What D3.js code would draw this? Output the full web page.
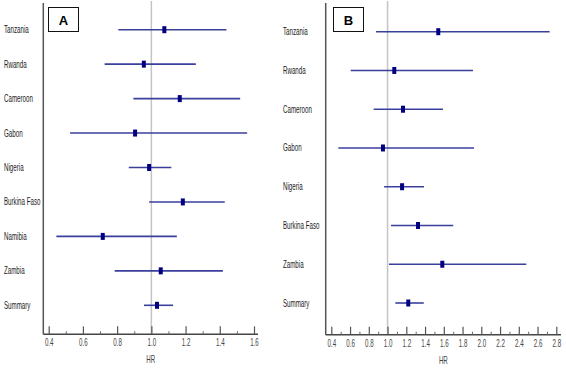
<!DOCTYPE html>
<html>
<head>
<meta charset="utf-8">
<script src="https://cdn.jsdelivr.net/npm/d3@7"></script>
<style>
  body { margin: 0; background: #fff; }
  text { font-family: "Liberation Sans", Arial, sans-serif; }
</style>
</head>
<body>
<div id="chart"></div>
<script>
/* DATA */
const countriesA = ["Tanzania", "Rwanda", "Cameroon", "Gabon", "Nigeria", "Burkina Faso", "Namibia", "Zambia", "Summary"];
const hrA    = [1.076, 0.956, 1.166, 0.905, 0.987, 1.184, 0.716, 1.055, 1.033];
const lowerA = [0.807, 0.727, 0.895, 0.525, 0.868, 0.987, 0.445, 0.786, 0.957];
const upperA = [1.439, 1.260, 1.519, 1.560, 1.117, 1.429, 1.149, 1.418, 1.127];
const ticksA = [0.4, 0.6, 0.8, 1.0, 1.2, 1.4, 1.6];

const countriesB = ["Tanzania", "Rwanda", "Cameroon", "Gabon", "Nigeria", "Burkina Faso", "Zambia", "Summary"];
const hrB    = [1.541, 1.072, 1.165, 0.951, 1.155, 1.325, 1.584, 1.221];
const lowerB = [0.877, 0.607, 0.852, 0.475, 0.963, 1.037, 1.015, 1.083];
const upperB = [2.729, 1.911, 1.591, 1.922, 1.389, 1.701, 2.480, 1.386];
const ticksB = [0.4, 0.6, 0.8, 1.0, 1.2, 1.4, 1.6, 1.8, 2.0, 2.2, 2.4, 2.6, 2.8];

const width = 566, height = 372;
const squeeze = 0.62; // the original uses a very narrow font

const svg = d3.select("#chart").append("svg")
  .attr("width", width)
  .attr("height", height);

// one forest plot panel
function drawPanel(p) {
  const g = svg.append("g");

  const xScale = d3.scaleLinear().domain(p.domain).range(p.xRange);
  const yScale = d3.scalePoint().domain(p.countries).range(p.yRange);

  const rows = p.countries.map((c, i) => ({ c, hr: p.hr[i], lo: p.lower[i], hi: p.upper[i] }));

  // reference line at HR = 1
  g.append("line")
    .attr("x1", xScale(1)).attr("x2", xScale(1))
    .attr("y1", 1).attr("y2", p.axisY)
    .attr("stroke", "#c4c4c4").attr("stroke-width", 1.5);

  // left axis line
  g.append("line")
    .attr("x1", p.axisX).attr("x2", p.axisX)
    .attr("y1", 3).attr("y2", p.axisY)
    .attr("stroke", "#555").attr("stroke-width", 1.5);

  // bottom axis line
  g.append("line")
    .attr("x1", p.axisX).attr("x2", p.axisEnd)
    .attr("y1", p.axisY).attr("y2", p.axisY)
    .attr("stroke", "#444").attr("stroke-width", 1.5);

  // major ticks + labels
  const axis = g.append("g")
    .attr("transform", `translate(0,${p.axisY})`)
    .call(d3.axisBottom(xScale)
      .tickValues(p.ticks)
      .tickSizeInner(-8)
      .tickSizeOuter(0)
      .tickPadding(5)
      .tickFormat(d3.format(".1f")));
  axis.select(".domain").remove();
  axis.selectAll("line").attr("stroke", "#555").attr("stroke-width", 1.2);
  axis.selectAll("text")
    .attr("fill", "#444")
    .attr("transform", `scale(${squeeze},1)`)
    .style("font-size", "10px")
    .style("font-family", "'Liberation Sans', Arial, sans-serif");

  // minor ticks
  const minor = p.ticks.slice(0, -1).map(t => +(t + 0.1).toFixed(1));
  const minorAxis = g.append("g")
    .attr("transform", `translate(0,${p.axisY})`)
    .call(d3.axisBottom(xScale).tickValues(minor).tickSizeInner(-3).tickSizeOuter(0).tickFormat(""));
  minorAxis.select(".domain").remove();
  minorAxis.selectAll("line").attr("stroke", "#666").attr("stroke-width", 1);

  // axis title
  g.append("text")
    .attr("transform", `translate(${(p.axisX + p.axisEnd) / 2},${p.axisY + 29}) scale(${squeeze},1)`)
    .attr("text-anchor", "middle")
    .attr("fill", "#444")
    .style("font-size", "10px")
    .text("HR");

  // country labels
  g.selectAll(".label")
    .data(rows)
    .join("text")
    .attr("class", "label")
    .attr("transform", d => `translate(${p.labelX},${yScale(d.c)}) scale(${squeeze},1)`)
    .attr("dy", "0.35em")
    .attr("fill", "#222")
    .style("font-size", "10px")
    .text(d => d.c);

  // confidence intervals
  g.selectAll(".ci")
    .data(rows)
    .join("line")
    .attr("class", "ci")
    .attr("x1", d => xScale(d.lo))
    .attr("x2", d => xScale(d.hi))
    .attr("y1", d => yScale(d.c))
    .attr("y2", d => yScale(d.c))
    .attr("stroke", "#3b3f9c")
    .attr("stroke-width", 1.6);

  // point estimates
  g.selectAll(".pt")
    .data(rows)
    .join("rect")
    .attr("class", "pt")
    .attr("x", d => xScale(d.hr) - 2)
    .attr("y", d => yScale(d.c) - 3.5)
    .attr("width", 4)
    .attr("height", 7)
    .attr("fill", "#000080");

  // panel letter box
  g.append("rect")
    .attr("x", p.box[0]).attr("y", 7.5)
    .attr("width", 30).attr("height", 24)
    .attr("fill", "#fff").attr("stroke", "#111").attr("stroke-width", 1);
  g.append("text")
    .attr("x", p.box[0] + 15).attr("y", 20)
    .attr("dy", "0.35em")
    .attr("text-anchor", "middle")
    .style("font-weight", "bold")
    .style("font-size", "13px")
    .text(p.letter);
}

drawPanel({
  letter: "A",
  countries: countriesA, hr: hrA, lower: lowerA, upper: upperA, ticks: ticksA,
  domain: [0.4, 1.6], xRange: [48.7, 254],
  yRange: [29.7, 305.3],
  axisX: 43.3, axisEnd: 258, axisY: 334.3,
  labelX: 4, box: [48.5]
});

drawPanel({
  letter: "B",
  countries: countriesB, hr: hrB, lower: lowerB, upper: upperB, ticks: ticksB,
  domain: [0.4, 2.8], xRange: [331.3, 556.3],
  yRange: [31.7, 303],
  axisX: 325.7, axisEnd: 561, axisY: 334.7,
  labelX: 283, box: [333.5]
});
</script>
</body>
</html>
